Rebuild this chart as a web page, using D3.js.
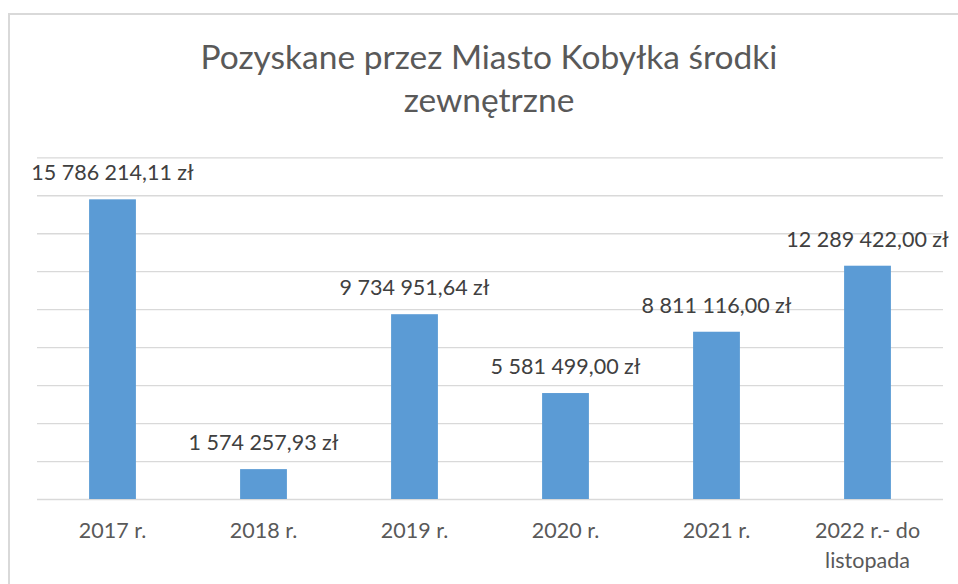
<!DOCTYPE html>
<html>
<head>
<meta charset="utf-8">
<script src="https://cdn.jsdelivr.net/npm/d3@7/dist/d3.min.js"></script>
<style>
  html, body { margin: 0; padding: 0; background: #fff; }
  svg { display: block; }
  text { font-family: Lato, "Open Sans", sans-serif; }
</style>
</head>
<body>
<svg id="chart" width="958" height="584"></svg>
<script>
// ---- data ----
const categories = ["2017 r.", "2018 r.", "2019 r.", "2020 r.", "2021 r.", "2022 r.- do listopada"];
const values = [15786214.11, 1574257.93, 9734951.64, 5581499.00, 8811116.00, 12289422.00];
const yTicks = [0, 2000000, 4000000, 6000000, 8000000, 10000000, 12000000, 14000000, 16000000, 18000000];
const titleLines = ["Pozyskane przez Miasto Kobyłka środki", "zewnętrzne"];

// ---- setup ----
const W = 958, H = 584;
const svg = d3.select("#chart");

const plLocale = d3.formatLocale({
  decimal: ",",
  thousands: "\u00a0",
  grouping: [3],
  currency: ["", "\u00a0zł"]
});
const fmt = plLocale.format("$,.2f");

// chart border
svg.append("rect")
  .attr("x", 9).attr("y", 14)
  .attr("width", W + 20).attr("height", H + 20)
  .attr("fill", "#fff")
  .attr("stroke", "#d9d9d9")
  .attr("stroke-width", 2);

const plotLeft = 37, plotRight = 943, plotTop = 157.3, plotBottom = 499;

const x = d3.scaleBand()
  .domain(categories)
  .range([plotLeft, plotRight])
  .paddingInner(0.69)
  .paddingOuter(0.345);

const y = d3.scaleLinear()
  .domain([0, 18000000])
  .range([plotBottom, plotTop]);

// gridlines
const yAxis = d3.axisLeft(y)
  .tickValues(yTicks)
  .tickSize(-(plotRight - plotLeft))
  .tickFormat("");
const gGrid = svg.append("g")
  .attr("transform", `translate(${plotLeft},0)`)
  .call(yAxis);
gGrid.select(".domain").remove();
gGrid.selectAll(".tick line")
  .attr("stroke", "#d9d9d9")
  .attr("stroke-width", 1.3);

// bars
svg.append("g").selectAll("rect")
  .data(values)
  .join("rect")
  .attr("x", (d, i) => x(categories[i]))
  .attr("y", d => y(d))
  .attr("width", x.bandwidth())
  .attr("height", d => y(0) - y(d))
  .attr("fill", "#5b9bd5");

// value labels
svg.append("g").selectAll("text")
  .data(values)
  .join("text")
  .attr("x", (d, i) => x(categories[i]) + x.bandwidth() / 2)
  .attr("y", d => y(d) - 19)
  .attr("text-anchor", "middle")
  .attr("font-size", 21.5)
  .attr("fill", "#404040")
  .text(d => fmt(d));

// category labels (wrapped)
const xAxis = d3.axisBottom(x).tickSize(0).tickPadding(0);
const gX = svg.append("g")
  .attr("transform", `translate(0,${plotBottom})`)
  .call(xAxis);
gX.select(".domain").remove();
gX.selectAll(".tick text").each(function(d) {
  const t = d3.select(this);
  t.text(null)
    .attr("y", 0).attr("dy", null)
    .attr("font-size", 21.5)
    .attr("fill", "#595959")
    .style("font-family", "Lato, 'Open Sans', sans-serif");
  const words = d.split(" ");
  const maxW = 125;
  let lines = [], line = [];
  let tspan = t.append("tspan");
  words.forEach(w => {
    line.push(w);
    tspan.text(line.join(" "));
    if (tspan.node().getComputedTextLength() > maxW && line.length > 1) {
      line.pop();
      lines.push(line.join(" "));
      line = [w];
    }
  });
  lines.push(line.join(" "));
  t.text(null);
  lines.forEach((l, i) => {
    t.append("tspan").attr("x", 0).attr("y", 39 + i * 30).text(l);
  });
});

// title
svg.append("g").selectAll("text")
  .data(titleLines)
  .join("text")
  .attr("x", 489)
  .attr("y", (d, i) => 69 + i * 43)
  .attr("text-anchor", "middle")
  .attr("font-size", 33.5)
  .attr("fill", "#595959")
  .text(d => d);
</script>
</body>
</html>
